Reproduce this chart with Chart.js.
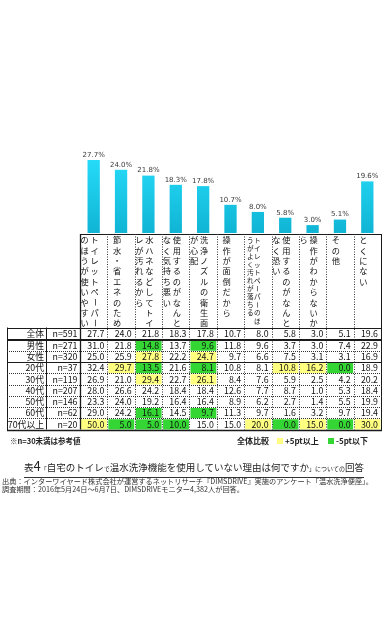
<!DOCTYPE html>
<html><head><meta charset="utf-8">
<script src="https://cdn.jsdelivr.net/npm/chart.js@4.4.1/dist/chart.umd.min.js"></script>
<style>
html,body{margin:0;padding:0;background:#fff;}
body{width:388px;height:640px;position:relative;overflow:hidden;font-family:"Noto Sans CJK JP",sans-serif;color:#222;}
#wrap{position:absolute;left:0;top:0;width:388px;height:436px;}
.abs{position:absolute;white-space:nowrap;line-height:1;}
.sq{position:absolute;width:6px;height:6px;}
</style></head><body>
<div id="wrap"><canvas id="c" width="388" height="436"></canvas></div>
<div class="abs" style="left:10px;top:437px;font-size:7.5px;font-weight:bold;">※n=30未満は参考値</div>
<div class="abs" style="left:237px;top:437px;font-size:8px;font-weight:bold;">全体比較</div>
<div class="sq" style="left:277px;top:438px;background:#ffff80;"></div>
<div class="abs" style="left:285px;top:437px;font-size:8px;font-weight:bold;">+5pt以上</div>
<div class="sq" style="left:328px;top:438px;background:#33d633;"></div>
<div class="abs" style="left:336px;top:437px;font-size:8px;font-weight:bold;">-5pt以下</div>
<div class="abs" style="left:0;width:388px;top:456px;text-align:center;color:#222;">
<span style="border-bottom:1px solid #333;padding-bottom:1px;"><span style="font-size:9.5px">表</span><span style="font-size:13px">4</span><span style="font-size:6px">「</span><span style="font-size:9.5px">自宅のトイレ</span><span style="font-size:6px">で</span><span style="font-size:9.5px">温水洗浄機能を使用していない理由は何ですか</span><span style="font-size:6px">」についての</span><span style="font-size:9.5px">回答</span></span></div>
<div class="abs" style="left:2px;top:477px;font-size:7.2px;line-height:8px;color:#333;">出典：インターワイヤード株式会社が運営するネットリサーチ『DIMSDRIVE』実施のアンケート「温水洗浄便座」。<br>調査期間：2016年5月24日～6月7日、DIMSDRIVEモニター4,382人が回答。</div>
<script>
// ---- data ----
const categories = [
  ["トイレットペーパー","のほうが使いやすい"],
  ["節水・省エネのため"],
  ["水ハネなどしてトイ","レが汚れるから"],
  ["使用するのがなんと","なく気持ち悪い"],
  ["洗浄ノズルの衛生面","が心配"],
  ["操作が面倒だから"],
  ["トイレットペーパーのほ","うがよく汚れが落ちる"],
  ["使用するのがなんと","なく恐い"],
  ["操作がわからないか","ら"],
  ["その他"],
  ["とくにない"]
];
const groups = ["全体","男性","女性","20代","30代","40代","50代","60代","70代以上"];
const sampleSizes = ["n=591","n=271","n=320","n=37","n=119","n=207","n=146","n=62","n=20"];
const total   = [27.7,24.0,21.8,18.3,17.8,10.7,8.0,5.8,3.0,5.1,19.6];
const male    = [31.0,21.8,14.8,13.7,9.6,11.8,9.6,3.7,3.0,7.4,22.9];
const female  = [25.0,25.9,27.8,22.2,24.7,9.7,6.6,7.5,3.1,3.1,16.9];
const age20s  = [32.4,29.7,13.5,21.6,8.1,10.8,8.1,10.8,16.2,0.0,18.9];
const age30s  = [26.9,21.0,29.4,22.7,26.1,8.4,7.6,5.9,2.5,4.2,20.2];
const age40s  = [28.0,26.6,24.2,18.4,18.4,12.6,7.7,8.7,1.0,5.3,18.4];
const age50s  = [23.3,24.0,19.2,16.4,16.4,8.9,6.2,2.7,1.4,5.5,19.9];
const age60s  = [29.0,24.2,16.1,14.5,9.7,11.3,9.7,1.6,3.2,9.7,19.4];
const age70up = [50.0,5.0,5.0,10.0,15.0,15.0,20.0,0.0,15.0,0.0,30.0];
const rows = [total,male,female,age20s,age30s,age40s,age50s,age60s,age70up];

const JP = "'Noto Sans CJK JP', sans-serif";

function barFill(c){
  const ch=c.chart, ca=ch.chartArea;
  if(!ca) return '#19cdee';
  const g=ch.ctx.createLinearGradient(0,ca.top,0,ca.bottom);
  g.addColorStop(0,'#27defb'); g.addColorStop(1,'#10b4d4');
  return g;
}

const labelPlugin = {
  id:'pctLabels',
  afterDatasetsDraw(chart){
    const ctx=chart.ctx, meta=chart.getDatasetMeta(0);
    ctx.save();
    ctx.font="7px 'DejaVu Sans', sans-serif";
    ctx.fillStyle='#3a3a3a'; ctx.textAlign='center'; ctx.textBaseline='bottom';
    meta.data.forEach((el,i)=>{ ctx.fillText(total[i].toFixed(1)+'%', el.x, el.y-1.5); });
    ctx.restore();
  }
};

const tablePlugin = {
  id:'table',
  afterDraw(chart){
    const ctx=chart.ctx, xs=chart.scales.x, ca=chart.chartArea;
    const n=categories.length, cw=(ca.right-ca.left)/n;
    const L=7, C1=46, C2=ca.left, R=ca.right;
    const hTop=234, hBot=327.5;
    const rowTop=[327.5], rowBot=[338.5];
    const h=11.25; let y0=339.5;
    for(let r=1;r<rows.length;r++){ rowTop.push(y0); rowBot.push(y0+h); y0+=h; }
    const tBot=rowBot[rowBot.length-1];
    ctx.save();
    // cell highlights
    rows.forEach((row,r)=>{
      if(r===0) return;
      row.forEach((v,i)=>{
        const d=Math.round((v-total[i])*10)/10;
        let col=null;
        if(d>=5) col='#ffff80'; else if(d<=-5) col='#33d633';
        if(col){
          const cx=xs.getPixelForValue(i);
          ctx.fillStyle=col;
          ctx.fillRect(cx-cw/2+1, rowTop[r]+1, cw-1.5, rowBot[r]-rowTop[r]-1);
        }
      });
    });
    const hl=(x1,x2,y,dash,w)=>{ctx.beginPath();ctx.setLineDash(dash||[]);ctx.lineWidth=w||1;const yy=Math.round(y)+0.5;ctx.moveTo(x1,yy);ctx.lineTo(x2,yy);ctx.stroke();};
    const vl=(x,y1,y2,dash,w)=>{ctx.beginPath();ctx.setLineDash(dash||[]);ctx.lineWidth=w||1;const xx=Math.round(x)+0.5;ctx.moveTo(xx,y1);ctx.lineTo(xx,y2);ctx.stroke();};
    ctx.strokeStyle='#1a1a1a';
    // header box
    hl(C2,R+1,hTop);
    // verticals
    vl(L,rowTop[0],tBot+1);
    vl(C1,rowTop[0],tBot);
    vl(C2,hTop,tBot,[],1.3);
    vl(R,hTop,tBot+1);
    ctx.strokeStyle='#333';
    for(let i=1;i<n;i++){ vl(xs.getPixelForValue(i)-cw/2, hTop, tBot, [1,1.5]); }
    ctx.strokeStyle='#1a1a1a';
    // horizontals
    hl(L,R+1,rowTop[0]);
    hl(L,R+1,rowBot[0]);
    hl(L,R+1,rowBot[0]+1.5);
    ctx.strokeStyle='#333';
    for(let r=1;r<rows.length-1;r++){
      if(r===2){ ctx.strokeStyle='#1a1a1a'; hl(L,R+1,rowBot[r]); ctx.strokeStyle='#333'; }
      else hl(L,R+1,rowBot[r],[1,1]);
    }
    ctx.strokeStyle='#1a1a1a';
    hl(L,R+1,tBot,[],1.3);
    ctx.setLineDash([]);
    // header vertical text
    ctx.fillStyle='#111'; ctx.textAlign='center'; ctx.textBaseline='middle';
    categories.forEach((lines,i)=>{
      const cx=xs.getPixelForValue(i);
      const small=lines.some(l=>l.length>9);
      const fs=small?6.6:8.2, step=small?8.1:10.4, gap=small?7:10;
      ctx.font=fs+"px "+JP;
      const rightX=cx-4+(lines.length-1)*gap/2;
      lines.forEach((line,li)=>{
        const x=rightX-li*gap;
        [...line].forEach((ch,k)=>{
          const y=240+k*step;
          if(ch==='ー'){ ctx.save(); ctx.translate(x,y); ctx.rotate(Math.PI/2); ctx.fillText(ch,0,0); ctx.restore(); }
          else ctx.fillText(ch,x,y);
        });
      });
    });
    // rows text
    ctx.font="8.8px "+JP; ctx.textAlign='right';
    rows.forEach((row,r)=>{
      const cy=(rowTop[r]+rowBot[r])/2+0.5;
      ctx.fillText(groups[r], C1-2, cy);
      ctx.fillText(sampleSizes[r], C2-2.5, cy);
      row.forEach((v,i)=>{
        const cx=xs.getPixelForValue(i);
        ctx.fillText(v.toFixed(1), cx+cw/2-3, cy);
      });
    });
    ctx.restore();
  }
};

new Chart(document.getElementById('c'),{
  type:'bar',
  data:{ labels:categories, datasets:[{ data:total, backgroundColor:barFill, borderWidth:0, barPercentage:0.45, categoryPercentage:1 }]},
  options:{
    responsive:false, animation:false, devicePixelRatio:1,
    layout:{padding:{left:80,right:7,top:154,bottom:203}},
    plugins:{legend:{display:false},tooltip:{enabled:false},title:{display:false}},
    scales:{
      x:{display:false},
      y:{display:false,min:0,max:30}
    }
  },
  plugins:[labelPlugin,tablePlugin]
});
</script>
</body></html>
